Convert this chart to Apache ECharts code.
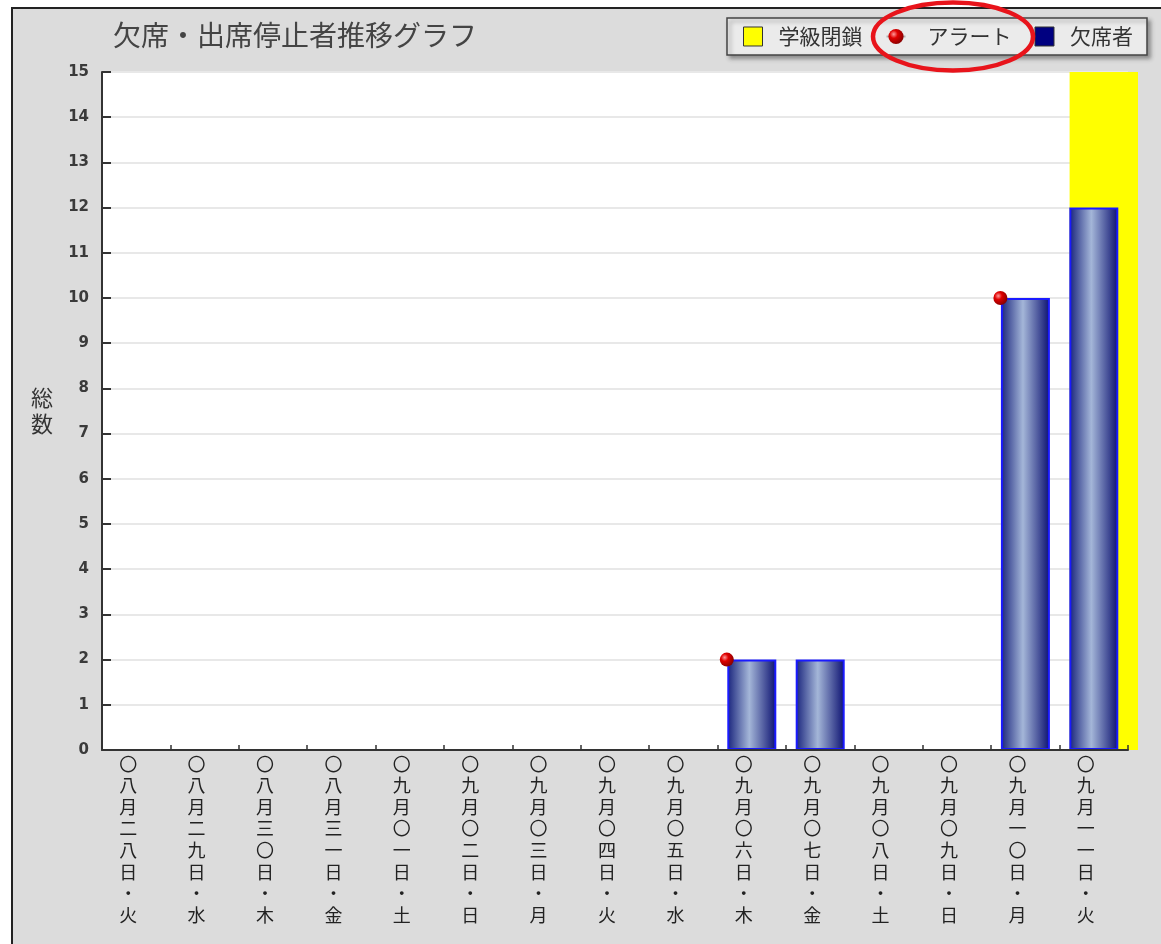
<!DOCTYPE html>
<html>
<head>
<meta charset="utf-8">
<script src="https://cdn.jsdelivr.net/npm/echarts@6/dist/echarts.min.js"></script>
<style>
  html, body { margin: 0; padding: 0; background: #ffffff; }
  #chart { width: 1161px; height: 944px; }
</style>
</head>
<body>
<div id="chart"></div>
<script>
// Dates (month/day in kanji numerals, weekday)
const dates = [
  '〇八月二八日・火', '〇八月二九日・水', '〇八月三〇日・木', '〇八月三一日・金',
  '〇九月〇一日・土', '〇九月〇二日・日', '〇九月〇三日・月', '〇九月〇四日・火',
  '〇九月〇五日・水', '〇九月〇六日・木', '〇九月〇七日・金', '〇九月〇八日・土',
  '〇九月〇九日・日', '〇九月一〇日・月', '〇九月一一日・火'
];
// Absent / suspended students per day
const absentees = [0, 0, 0, 0, 0, 0, 0, 0, 0, 2, 2, 0, 0, 10, 12];
// Alert raised on these days (value = count at alert time)
const alerts = [null, null, null, null, null, null, null, null, null, 2, null, null, null, 10, null];
// Class closure: band over the whole axis height on closed days
const classClosure = [null, null, null, null, null, null, null, null, null, null, null, null, null, null, 15];
// Value axis ticks
const yTicks = { min: 0, max: 15, interval: 1 };

const FONT = "'Noto Sans CJK JP', 'Noto Sans', sans-serif";
const chart = echarts.init(document.getElementById('chart'), null, { renderer: 'canvas' });

const barGradient = {
  type: 'linear', x: 0, y: 0, x2: 1, y2: 0,
  colorStops: [
    { offset: 0, color: '#18237c' },
    { offset: 0.45, color: '#a4b6d8' },
    { offset: 1, color: '#0b1070' }
  ]
};
const ballGradient = {
  type: 'radial', x: 0.35, y: 0.35, r: 0.75,
  colorStops: [
    { offset: 0, color: '#ff9a9a' },
    { offset: 0.35, color: '#e00000' },
    { offset: 1, color: '#7a0000' }
  ]
};

const option = {
  animation: false,
  backgroundColor: '#ffffff',
  textStyle: { fontFamily: FONT },
  title: {
    text: '欠席・出席停止者推移グラフ',
    left: 108, top: 16,
    textStyle: { fontFamily: FONT, fontSize: 28, fontWeight: 'normal', color: '#444' }
  },
  legend: {
    left: 727, top: 18,
    orient: 'horizontal',
    selectedMode: false,
    padding: [8, 14, 8, 16],
    itemWidth: 19, itemHeight: 19, itemGap: 23,
    backgroundColor: '#ebebeb',
    borderColor: '#444', borderWidth: 1.5,
    shadowColor: 'rgba(0,0,0,0.35)', shadowBlur: 4, shadowOffsetX: 3, shadowOffsetY: 3,
    textStyle: { fontFamily: FONT, fontSize: 21, color: '#333', padding: [0, 0, 0, 11] },
    data: [
      { name: '学級閉鎖', icon: 'rect', itemStyle: { color: '#ffff00', borderColor: '#333', borderWidth: 1 } },
      { name: 'アラート', textStyle: { padding: [0, 7, 0, 17] } },
      { name: '欠席者', icon: 'rect', itemStyle: { color: '#000080', borderColor: '#333', borderWidth: 1 } }
    ]
  },
  grid: [
    { left: 102, right: 33, top: 72, bottom: 194, show: true, backgroundColor: '#ffffff', borderWidth: 0 },
    { left: 112, right: 23, top: 72, bottom: 194, show: false }
  ],
  xAxis: [
    {
      type: 'category', gridIndex: 0, data: dates, z: 10,
      axisLine: { show: true, lineStyle: { color: '#333', width: 2 } },
      axisTick: { show: true, inside: true, length: 5, lineStyle: { color: '#333', width: 1.5 } },
      axisLabel: {
        interval: 0, margin: 3,
        fontFamily: FONT, fontSize: 18, lineHeight: 21.6, color: '#222',
        padding: [0, 16, 0, 0],
        verticalAlign: 'top',
        formatter: v => v.split('').join('\n')
      }
    },
    {
      type: 'category', gridIndex: 1, data: dates, show: false
    }
  ],
  yAxis: [
    {
      type: 'value', gridIndex: 0,
      min: yTicks.min, max: yTicks.max, interval: yTicks.interval,
      name: '総\n数', nameLocation: 'middle', nameRotate: 0, nameGap: 49,
      nameTextStyle: { fontFamily: FONT, fontSize: 22, lineHeight: 26, color: '#333' },
      axisLine: { show: true, lineStyle: { color: '#333', width: 2 } },
      axisTick: { show: true, inside: true, length: 9, lineStyle: { color: '#333', width: 2 } },
      axisLabel: { margin: 13, fontFamily: 'DejaVu Sans', fontSize: 15, fontWeight: 'bold', color: '#3a3a3a' },
      splitLine: { show: true, lineStyle: { color: '#e8e8e8', width: 2 } }
    },
    {
      type: 'value', gridIndex: 1, min: yTicks.min, max: yTicks.max, show: false
    }
  ],
  series: [
    {
      name: '学級閉鎖', type: 'bar', xAxisIndex: 1, yAxisIndex: 1,
      data: classClosure.map(v => v == null ? '-' : v),
      barWidth: '100%', z: 2, silent: true,
      itemStyle: { color: '#ffff00' }
    },
    {
      name: '欠席者', type: 'bar', xAxisIndex: 0, yAxisIndex: 0,
      data: absentees.map(v => v === 0 ? '-' : v),
      barWidth: 49, z: 3, silent: true,
      itemStyle: { color: barGradient, borderColor: '#1a1aff', borderWidth: 2 }
    },
    {
      name: 'アラート', type: 'line', xAxisIndex: 0, yAxisIndex: 0,
      data: alerts.map(v => v == null ? '-' : v),
      symbol: 'circle', symbolSize: 14, symbolOffset: [-25, 0],
      showSymbol: true, z: 5, silent: true,
      lineStyle: { color: '#b0b0b0', width: 1 },
      itemStyle: { color: ballGradient }
    }
  ],
  graphic: {
    elements: [
      {
        // framed grey panel behind everything
        type: 'rect', z: -100, silent: true,
        shape: { x: 12, y: 8, width: 1170, height: 960 },
        style: { fill: '#dcdcdc', stroke: '#222', lineWidth: 2 }
      },
      {
        // red ring highlighting the alert legend entry
        type: 'ellipse', z: 100, silent: true,
        shape: { cx: 953, cy: 36.5, rx: 80, ry: 34 },
        style: { fill: 'none', stroke: '#e8141b', lineWidth: 4.5 }
      }
    ]
  }
};

chart.setOption(option);
</script>
</body>
</html>
